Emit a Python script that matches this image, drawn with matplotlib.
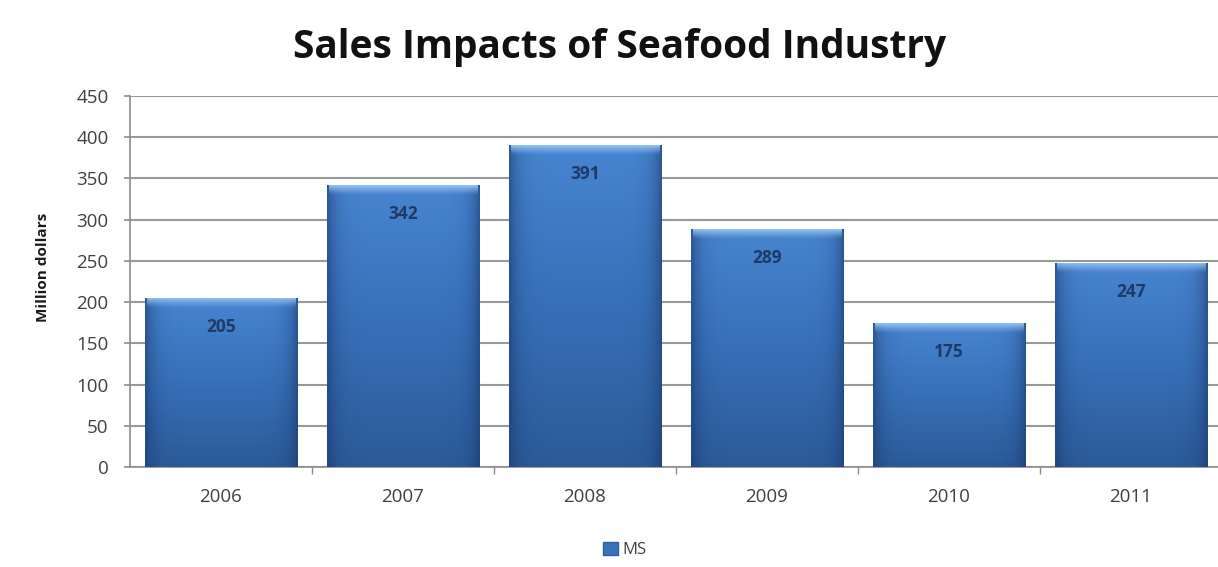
import numpy as np
import matplotlib
matplotlib.use("Agg")
import matplotlib.pyplot as plt
from matplotlib.colors import LinearSegmentedColormap
from matplotlib.patches import Rectangle

years = ["2006", "2007", "2008", "2009", "2010", "2011"]
sales = [205, 342, 391, 289, 175, 247]
series_name = "MS"
title = "Sales Impacts of Seafood Industry"
ylabel = "Million dollars"
yticks = [0, 50, 100, 150, 200, 250, 300, 350, 400, 450]

plt.rcParams['font.family'] = ['Open Sans', 'DejaVu Sans']

W, H = 1218, 567
fig = plt.figure(figsize=(W / 100, H / 100), dpi=100)
fig.patch.set_facecolor("white")

left_px, right_px = 130, 1222
top_px, bot_px = 96, 467
ax = fig.add_axes([left_px / W, 1 - bot_px / H, (right_px - left_px) / W, (bot_px - top_px) / H])

x = np.arange(len(years))
bw = 0.84
bars = ax.bar(x, sales, width=bw, color="#3d76c0", edgecolor="none", zorder=3)

units_per_px = 450 / (bot_px - top_px)

vert = LinearSegmentedColormap.from_list("v", ["#2c5a98", "#3770b8", "#4884d0"])
grad = np.linspace(0, 1, 256).reshape(-1, 1)
hz = np.abs(np.linspace(-1, 1, 256)).reshape(1, -1) ** 8
side = np.zeros((1, 256, 4))
side[..., 0] = 0.10
side[..., 1] = 0.22
side[..., 2] = 0.42
side[..., 3] = hz * 0.6
bev_n = 64
bev = np.zeros((bev_n, 1, 4))
bev[..., 0] = 0.62
bev[..., 1] = 0.80
bev[..., 2] = 0.97
bev[:, 0, 3] = np.linspace(0.0, 0.95, bev_n) ** 1.2

for b, v in zip(bars, sales):
    x0, y0 = b.get_x(), b.get_y()
    w, h = b.get_width(), b.get_height()
    im = ax.imshow(grad, extent=(x0, x0 + w, y0, y0 + h), origin="lower",
                   cmap=vert, aspect="auto", zorder=3.1, interpolation="bicubic")
    im.set_clip_path(b)
    im2 = ax.imshow(side, extent=(x0, x0 + w, y0, y0 + h), aspect="auto",
                    zorder=3.2, interpolation="bicubic")
    im2.set_clip_path(b)
    bh = 10 * units_per_px
    im3 = ax.imshow(bev, extent=(x0 + 0.012, x0 + w - 0.012, y0 + h - bh, y0 + h),
                    origin="lower", aspect="auto", zorder=3.3, interpolation="bicubic")
    im3.set_clip_path(b)
    ax.text(x0 + w / 2, y0 + h - 29 * units_per_px, f"{v}",
            ha="center", va="center", fontsize=12.5, color="#1f3a66",
            fontweight="bold", zorder=5)

ax.set_xlim(-0.5, len(years) - 0.5)
ax.set_ylim(0, 450)
ax.set_yticks(yticks)
ax.set_yticklabels([str(t) for t in yticks], fontsize=13.5, color="#404040")
ax.yaxis.grid(True, color="#999999", linewidth=1.5, zorder=0)
ax.set_axisbelow(True)

ax.set_xticks(x)
ax.set_xticklabels(years, fontsize=13.5, color="#404040")
ax.tick_params(axis="x", length=0, pad=15)
ax.set_xticks(np.arange(len(years)) + 0.5, minor=True)
ax.tick_params(axis="x", which="minor", length=5, color="#8c8c8c", width=1)
ax.tick_params(axis="y", length=4.5, color="#8c8c8c", width=1.2, pad=11)

for s in ["top", "right"]:
    ax.spines[s].set_visible(False)
ax.spines["left"].set_color("#8c8c8c")
ax.spines["left"].set_linewidth(1.2)
ax.spines["bottom"].set_color("#8c8c8c")
ax.spines["bottom"].set_linewidth(1.2)

fig.text(43 / W, 1 - 267 / H, ylabel, rotation=90, ha="center", va="center",
         fontsize=11, fontweight="bold", color="#1a1a1a")

fig.text(620 / W, 1 - 58 / H, title, ha="center", va="baseline", fontsize=28,
         fontweight="bold", color="#111111")

handle = Rectangle((0, 0), 1, 1, facecolor="#3a73bd", edgecolor="#2f5f9f")
fig.legend([handle], [series_name], loc="center", bbox_to_anchor=(625 / W, 1 - 550 / H),
           frameon=False, fontsize=12, handlelength=0.9, handleheight=0.8,
           handletextpad=0.25, labelcolor="#404040")

fig.savefig("out.png", dpi=100, facecolor="white")
